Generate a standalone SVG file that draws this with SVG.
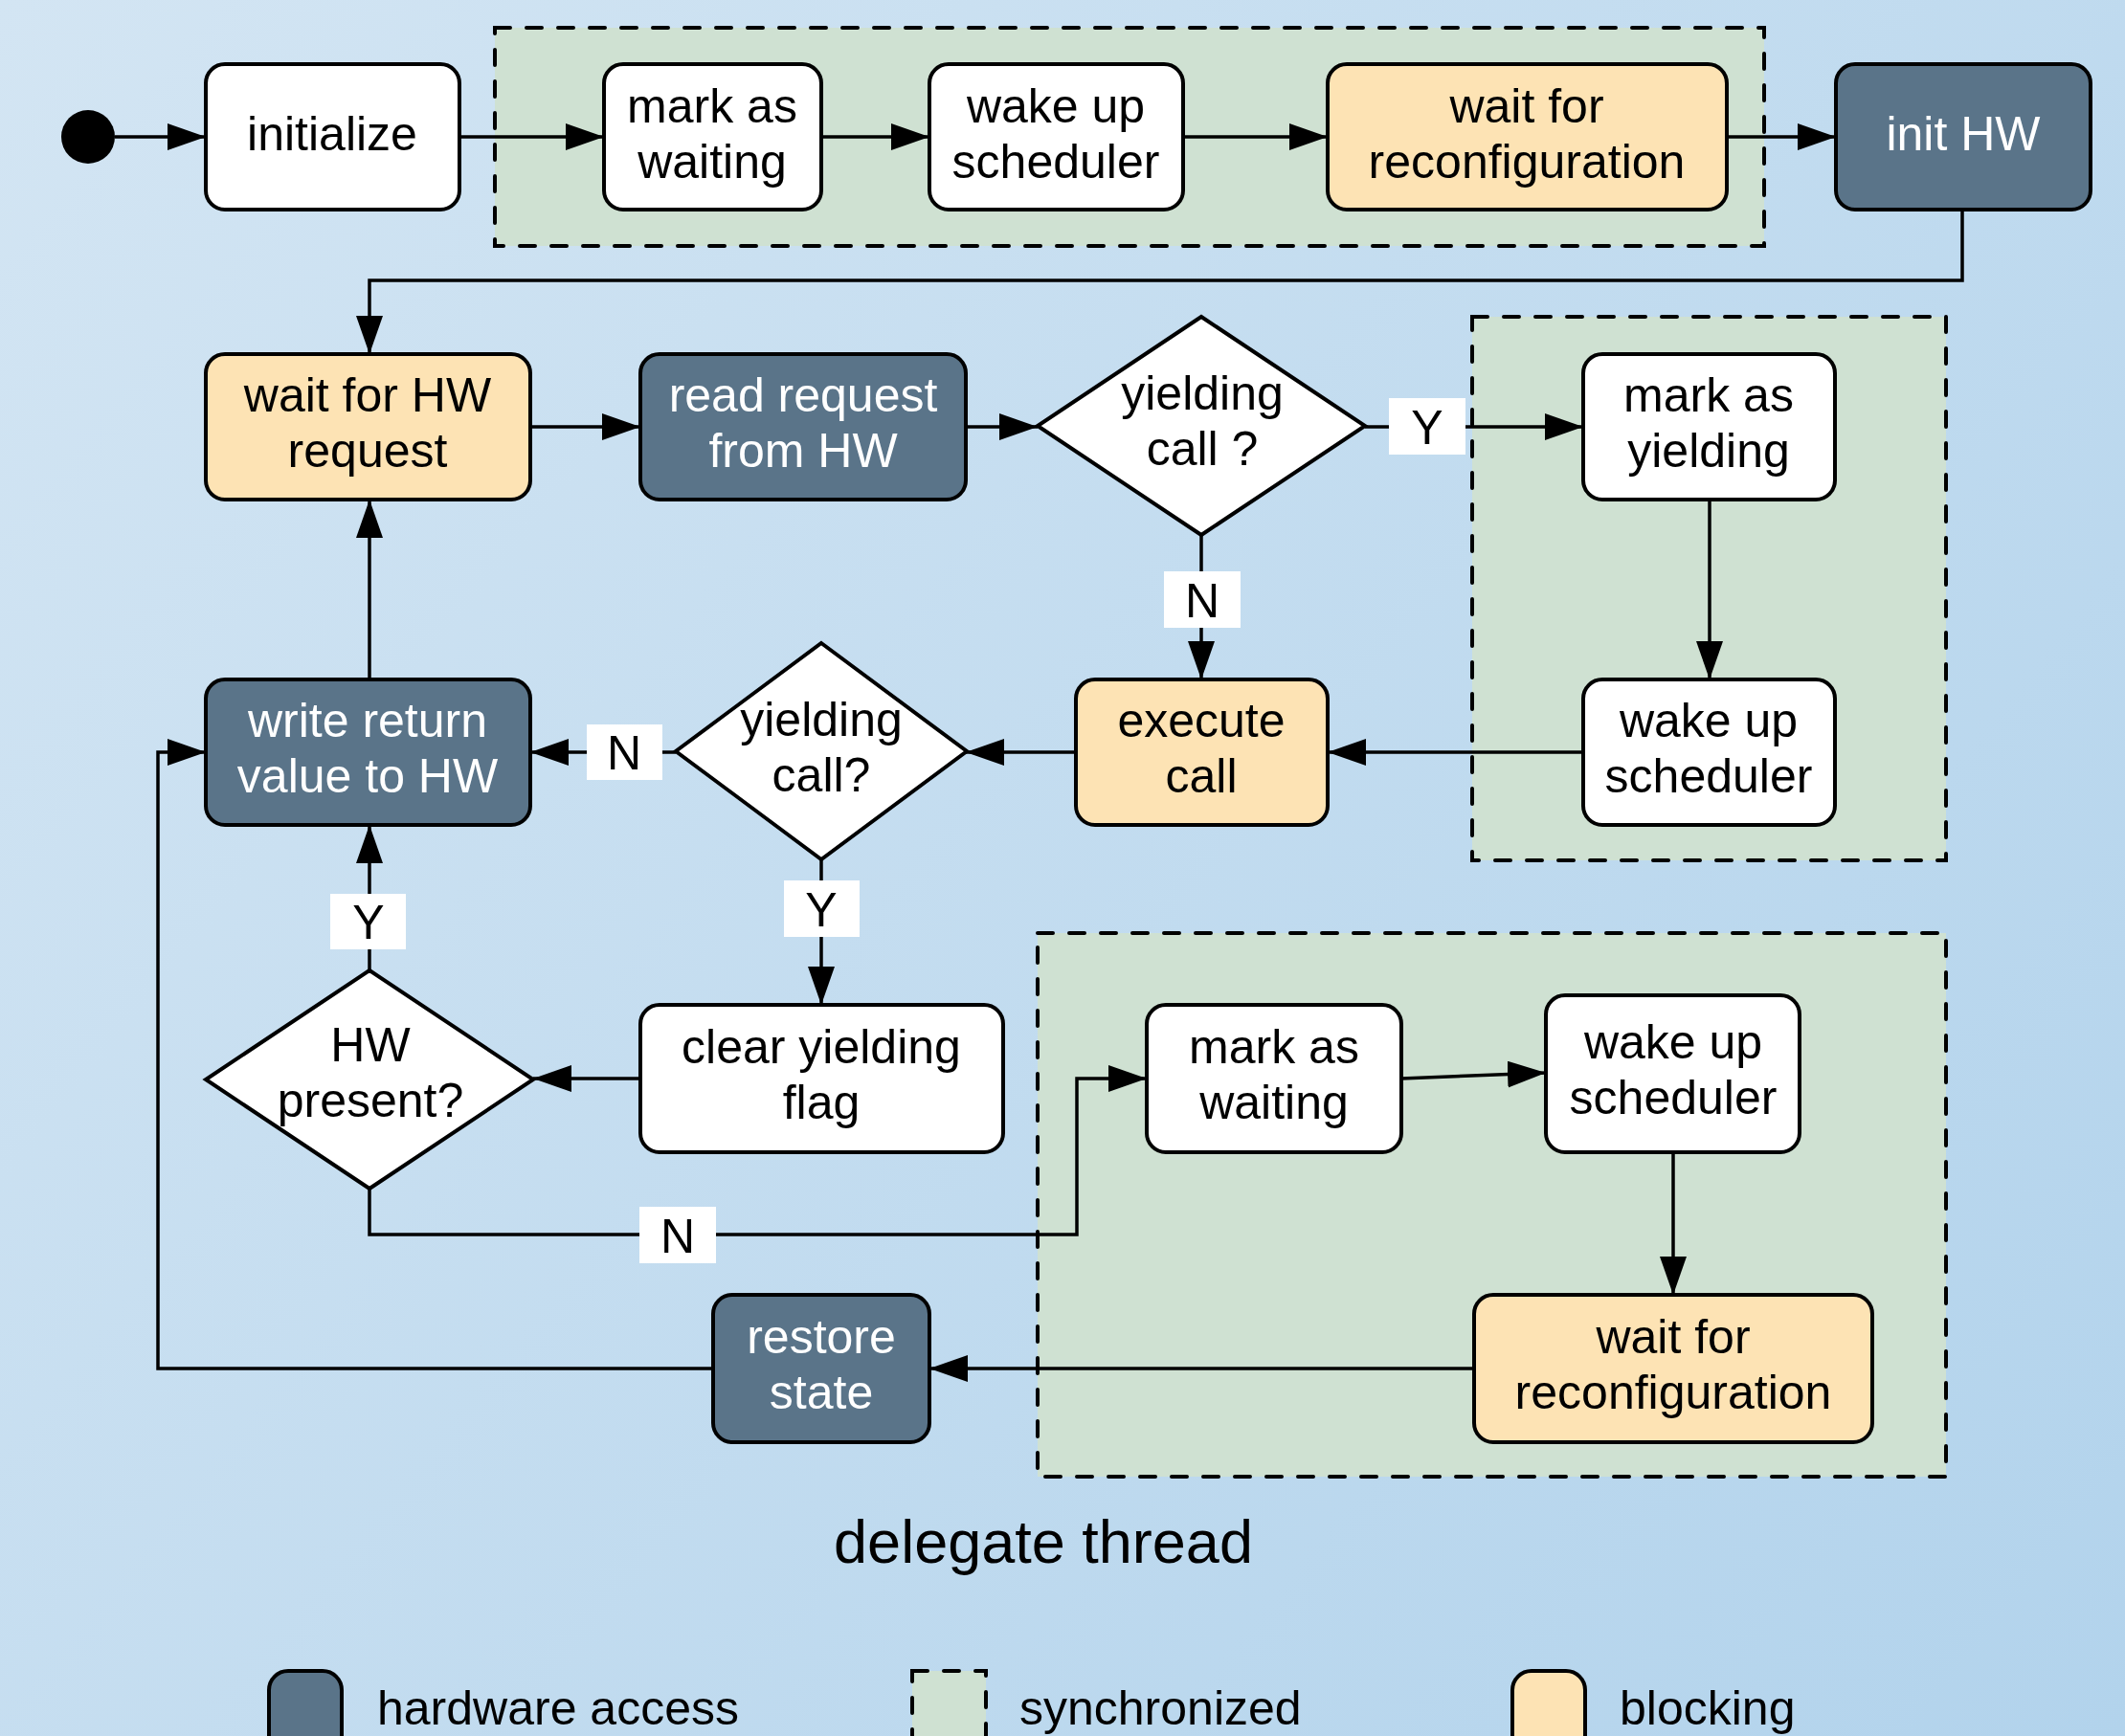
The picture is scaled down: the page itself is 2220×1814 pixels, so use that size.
<svg xmlns="http://www.w3.org/2000/svg" width="2220" height="1814" viewBox="0 0 2220 1814">
  <defs>
    <linearGradient id="bg" x1="0" y1="0" x2="2220" y2="1814" gradientUnits="userSpaceOnUse">
      <stop offset="0" stop-color="#d3e5f3"/>
      <stop offset="1" stop-color="#b2d3ec"/>
    </linearGradient>
    <marker id="arrow" viewBox="0 0 40 28" markerWidth="40" markerHeight="28" refX="40" refY="14" orient="auto" markerUnits="userSpaceOnUse">
      <path d="M0,0 L40,14 L0,28 Z" fill="#000"/>
    </marker>
    <style>
      .node rect { stroke: #000; stroke-width: 4; }
      .plain rect, .plain polygon { fill: #fff; }
      .hw rect { fill: #5a7489; }
      .block rect { fill: #fde3b4; }
      .dec polygon { fill: #fff; stroke: #000; stroke-width: 4; stroke-linejoin: miter; }
      text { font-family: "Liberation Sans", Arial, Helvetica, sans-serif; font-size: 50px; text-anchor: middle; fill: #000; }
      .hw text { fill: #fff; }
      .sync { fill: #cfe1d2; stroke: #000; stroke-width: 4; stroke-dasharray: 16 17; stroke-linecap: round; }
      .conn path { fill: none; stroke: #000; stroke-width: 3.5; }
      .lbl rect { fill: #fff; }
      .title { font-size: 63px; }
    </style>
  </defs>

  <!-- background -->
  <rect x="0" y="0" width="2220" height="1814" fill="url(#bg)"/>

  <!-- synchronized regions -->
  <g id="sync-regions">
    <rect class="sync" x="517" y="29" width="1326" height="228"/>
    <rect class="sync" x="1538" y="331" width="495" height="568"/>
    <rect class="sync" x="1084" y="975" width="949" height="568"/>
  </g>

  <!-- connectors -->
  <g id="connectors" class="conn">
    <path d="M120,143 H215" marker-end="url(#arrow)"/>
    <path d="M480,143 H631" marker-end="url(#arrow)"/>
    <path d="M858,143 H971" marker-end="url(#arrow)"/>
    <path d="M1236,143 H1387" marker-end="url(#arrow)"/>
    <path d="M1804,143 H1918" marker-end="url(#arrow)"/>
    <path d="M2050,219 V293 H386 V370" marker-end="url(#arrow)"/>
    <path d="M554,446 H669" marker-end="url(#arrow)"/>
    <path d="M1009,446 H1084" marker-end="url(#arrow)"/>
    <path d="M1426,446 H1654" marker-end="url(#arrow)"/>
    <path d="M1255,559 V710" marker-end="url(#arrow)"/>
    <path d="M1786,522 V710" marker-end="url(#arrow)"/>
    <path d="M1654,786 H1387" marker-end="url(#arrow)"/>
    <path d="M1124,786 H1009" marker-end="url(#arrow)"/>
    <path d="M706,786 H554" marker-end="url(#arrow)"/>
    <path d="M386,710 V522" marker-end="url(#arrow)"/>
    <path d="M858,898 V1050" marker-end="url(#arrow)"/>
    <path d="M669,1127 H557" marker-end="url(#arrow)"/>
    <path d="M386,1014 V862" marker-end="url(#arrow)"/>
    <path d="M386,1242 V1290 H1125 V1127 H1198" marker-end="url(#arrow)"/>
    <path d="M1464,1127 L1615,1121" marker-end="url(#arrow)"/>
    <path d="M1748,1204 V1353" marker-end="url(#arrow)"/>
    <path d="M1540,1430 H971" marker-end="url(#arrow)"/>
    <path d="M745,1430 H165 V786 H215" marker-end="url(#arrow)"/>
  </g>

  <!-- edge labels -->
  <g id="edge-labels" class="lbl">
    <rect x="1451" y="416" width="80" height="59"/><text x="1491" y="464">Y</text>
    <rect x="1216" y="597" width="80" height="59"/><text x="1256" y="645">N</text>
    <rect x="613" y="757" width="79" height="58"/><text x="652" y="804">N</text>
    <rect x="345" y="934" width="79" height="58"/><text x="385" y="981">Y</text>
    <rect x="819" y="920" width="79" height="59"/><text x="858" y="968">Y</text>
    <rect x="668" y="1261" width="80" height="59"/><text x="708" y="1309">N</text>
  </g>

  <!-- start -->
  <g id="start">
    <circle cx="92" cy="143" r="28" fill="#000"/>
  </g>

  <!-- row 1 -->
  <g id="initialize" class="node plain">
    <rect x="215" y="67" width="265" height="152" rx="20"/>
    <text x="347" y="157">initialize</text>
  </g>
  <g id="mark-waiting-1" class="node plain">
    <rect x="631" y="67" width="227" height="152" rx="20"/>
    <text x="744" y="128">mark as</text>
    <text x="744" y="186">waiting</text>
  </g>
  <g id="wake-up-1" class="node plain">
    <rect x="971" y="67" width="265" height="152" rx="20"/>
    <text x="1103" y="128">wake up</text>
    <text x="1103" y="186">scheduler</text>
  </g>
  <g id="wait-reconfig-1" class="node block">
    <rect x="1387" y="67" width="417" height="152" rx="20"/>
    <text x="1595" y="128">wait for</text>
    <text x="1595" y="186">reconfiguration</text>
  </g>
  <g id="init-hw" class="node hw">
    <rect x="1918" y="67" width="266" height="152" rx="20"/>
    <text x="2051" y="157">init HW</text>
  </g>

  <!-- row 2 -->
  <g id="wait-hw-request" class="node block">
    <rect x="215" y="370" width="339" height="152" rx="20"/>
    <text x="384" y="430">wait for HW</text>
    <text x="384" y="488">request</text>
  </g>
  <g id="read-request" class="node hw">
    <rect x="669" y="370" width="340" height="152" rx="20"/>
    <text x="839" y="430">read request</text>
    <text x="839" y="488">from HW</text>
  </g>
  <g id="yielding-call-1" class="dec">
    <polygon points="1255,331 1426,445 1255,559 1084,445"/>
    <text x="1256" y="428">yielding</text>
    <text x="1256" y="486">call ?</text>
  </g>
  <g id="mark-yielding" class="node plain">
    <rect x="1654" y="370" width="263" height="152" rx="20"/>
    <text x="1785" y="430">mark as</text>
    <text x="1785" y="488">yielding</text>
  </g>

  <!-- row 3 -->
  <g id="write-return" class="node hw">
    <rect x="215" y="710" width="339" height="152" rx="20"/>
    <text x="384" y="770">write return</text>
    <text x="384" y="828">value to HW</text>
  </g>
  <g id="yielding-call-2" class="dec">
    <polygon points="858,672 1010,785 858,898 706,785"/>
    <text x="858" y="769">yielding</text>
    <text x="858" y="827">call?</text>
  </g>
  <g id="execute-call" class="node block">
    <rect x="1124" y="710" width="263" height="152" rx="20"/>
    <text x="1255" y="770">execute</text>
    <text x="1255" y="828">call</text>
  </g>
  <g id="wake-up-2" class="node plain">
    <rect x="1654" y="710" width="263" height="152" rx="20"/>
    <text x="1785" y="770">wake up</text>
    <text x="1785" y="828">scheduler</text>
  </g>

  <!-- row 4 -->
  <g id="hw-present" class="dec">
    <polygon points="386,1014 557,1128 386,1242 215,1128"/>
    <text x="387" y="1109">HW</text>
    <text x="387" y="1167">present?</text>
  </g>
  <g id="clear-flag" class="node plain">
    <rect x="669" y="1050" width="379" height="154" rx="20"/>
    <text x="858" y="1111">clear yielding</text>
    <text x="858" y="1169">flag</text>
  </g>
  <g id="mark-waiting-2" class="node plain">
    <rect x="1198" y="1050" width="266" height="154" rx="20"/>
    <text x="1331" y="1111">mark as</text>
    <text x="1331" y="1169">waiting</text>
  </g>
  <g id="wake-up-3" class="node plain">
    <rect x="1615" y="1040" width="265" height="164" rx="20"/>
    <text x="1748" y="1106">wake up</text>
    <text x="1748" y="1164">scheduler</text>
  </g>

  <!-- row 5 -->
  <g id="restore-state" class="node hw">
    <rect x="745" y="1353" width="226" height="154" rx="20"/>
    <text x="858" y="1414">restore</text>
    <text x="858" y="1472">state</text>
  </g>
  <g id="wait-reconfig-2" class="node block">
    <rect x="1540" y="1353" width="416" height="154" rx="20"/>
    <text x="1748" y="1414">wait for</text>
    <text x="1748" y="1472">reconfiguration</text>
  </g>

  <!-- caption -->
  <text class="title" x="1090" y="1633">delegate thread</text>

  <!-- legend -->
  <g id="legend">
    <g class="node hw"><rect x="281" y="1746" width="76" height="110" rx="20"/></g>
    <text x="394" y="1802" style="text-anchor:start">hardware access</text>
    <rect class="sync" x="953" y="1746" width="77" height="110"/>
    <text x="1065" y="1802" style="text-anchor:start">synchronized</text>
    <g class="node block"><rect x="1580" y="1746" width="76" height="110" rx="20"/></g>
    <text x="1692" y="1802" style="text-anchor:start">blocking</text>
  </g>
</svg>
